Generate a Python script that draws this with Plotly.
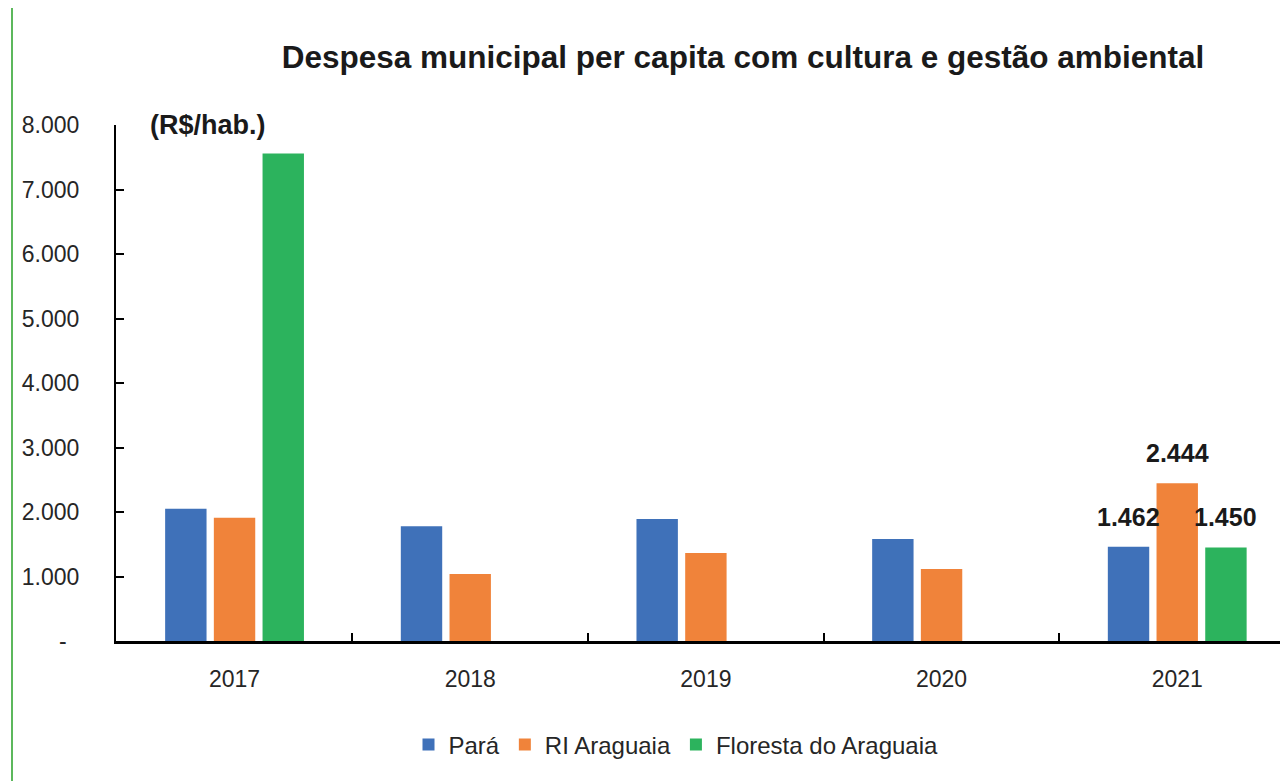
import plotly.graph_objects as go

years = ["2017", "2018", "2019", "2020", "2021"]
para = [2050, 1780, 1890, 1580, 1462]
ri_araguaia = [1910, 1040, 1365, 1115, 2444]
floresta = [7560, None, None, None, 1450]

series = [
    ("Pará", para, "#3f71b9"),
    ("RI Araguaia", ri_araguaia, "#f0833a"),
    ("Floresta do Araguaia", floresta, "#2cb35d"),
]

y_tickvals = [0, 1000, 2000, 3000, 4000, 5000, 6000, 7000, 8000]
y_ticktext = ["-\u00a0\u00a0", "1.000", "2.000", "3.000", "4.000",
              "5.000", "6.000", "7.000", "8.000"]

BARGAP = 0.38
GROUPGAP = 0.15
FONT = "Liberation Sans, Arial, sans-serif"

# page body adds an 8px margin, so the figure is 8px smaller than the window
W, H = 1280, 773
L, T, B = 108, 117, 140
PW = W - L
PH = H - T - B


def fmt(v):
    return f"{v:,}".replace(",", ".")


fig = go.Figure()
for name, vals, color in series:
    fig.add_trace(go.Bar(
        x=years, y=vals, name=name,
        marker=dict(color=color, line=dict(width=0)),
        hoverinfo="skip",
    ))

# value labels on the last year only
slot = (1 - BARGAP) / 3
last = len(years) - 1
for i, (name, vals, color) in enumerate(series):
    v = vals[last]
    fig.add_annotation(
        x=last + (i - 1) * slot, y=v, xref="x", yref="y",
        text=f"<b>{fmt(v)}</b>", showarrow=False,
        yanchor="middle", yshift=30,
        font=dict(size=25, color="#1a1a1a", family=FONT),
    )

fig.add_annotation(
    x=(140 - L) / PW, y=8000, xref="paper", yref="y",
    text="<b>(R$/hab.)</b>", showarrow=False,
    xanchor="left", yanchor="middle",
    font=dict(size=27, color="#1a1a1a", family=FONT),
)

# green rule at the far left
gx = (4 - L) / PW
fig.add_shape(type="line", xref="paper", yref="paper",
              x0=gx, x1=gx, y0=-1.2, y1=1.4,
              line=dict(color="#5cb85c", width=2))

fig.update_layout(
    width=W, height=H,
    margin=dict(l=L, r=0, t=T, b=B),
    paper_bgcolor="white", plot_bgcolor="white",
    font=dict(family=FONT, size=23, color="#262626"),
    title=dict(
        text="<b>Despesa municipal per capita com cultura e gestão ambiental</b>",
        x=735 / W, xanchor="center", y=1 - 49 / H, yanchor="middle",
        font=dict(size=31.5, color="#1a1a1a", family=FONT),
    ),
    barmode="group", bargap=BARGAP, bargroupgap=GROUPGAP,
    showlegend=True,
    legend=dict(orientation="h", x=(668 - L) / PW, xanchor="center",
                y=-104 / PH, yanchor="middle",
                font=dict(size=24, color="#262626"),
                itemwidth=30, traceorder="normal"),
    xaxis=dict(
        type="category", range=[-0.503, 4.47],
        showline=True, linecolor="black", linewidth=2.5,
        ticks="inside", tickson="boundaries", ticklen=8, tickcolor="black",
        tickwidth=2, ticklabelstandoff=16, showgrid=False,
    ),
    yaxis=dict(
        range=[0, 8000], tickvals=y_tickvals, ticktext=y_ticktext,
        showline=True, linecolor="black", linewidth=2,
        ticks="inside", ticklen=8, tickcolor="black", tickwidth=2,
        ticklabelstandoff=30, showgrid=False, zeroline=False,
    ),
)

fig.write_html("out.html")
